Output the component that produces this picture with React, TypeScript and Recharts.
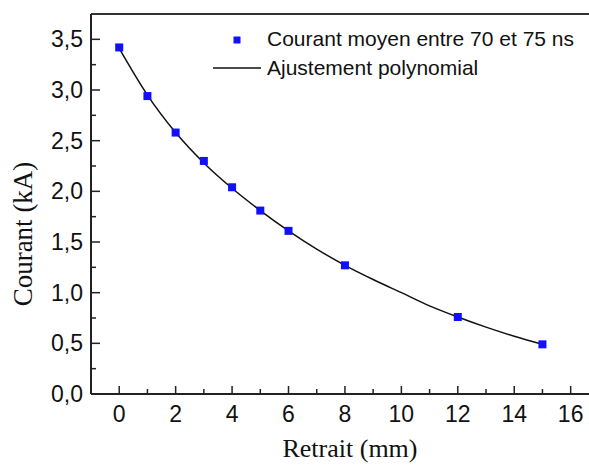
import {
  ComposedChart,
  Line,
  Scatter,
  XAxis,
  YAxis,
  ReferenceLine,
  Legend,
} from "recharts";

// measured points (courant moyen entre 70 et 75 ns)
const retraitMm: number[] = [0, 1, 2, 3, 4, 5, 6, 8, 12, 15];
const courantKA: number[] = [3.42, 2.94, 2.58, 2.3, 2.04, 1.81, 1.61, 1.27, 0.76, 0.49];

// polynomial fit
const fitX: number[] = [0, 1, 2, 3, 4, 5, 6, 7, 8, 9, 10, 11, 12, 13, 14, 15];
const fitY: number[] = [3.41, 2.95, 2.58, 2.28, 2.03, 1.81, 1.61, 1.43, 1.27, 1.13, 1.0, 0.87, 0.76, 0.66, 0.57, 0.49];

const xTicks: number[] = [0, 1, 2, 3, 4, 5, 6, 7, 8, 9, 10, 11, 12, 13, 14, 15, 16];
const yTicks: number[] = [0, 0.25, 0.5, 0.75, 1, 1.25, 1.5, 1.75, 2, 2.25, 2.5, 2.75, 3, 3.25, 3.5];

const X_DOMAIN: [number, number] = [-1, 16.65];
const Y_DOMAIN: [number, number] = [0, 3.75];

const AXIS_COLOR = "#222";
const MARKER_COLOR = "#1010ff";
const SANS = "'Liberation Sans', Arial, sans-serif";
const SERIF = "'Liberation Serif', 'Times New Roman', serif";

type Pt = { x: number; y: number };

const points: Pt[] = retraitMm.map((x, i) => ({ x, y: courantKA[i] }));
const fit: Pt[] = fitX.map((x, i) => ({ x, y: fitY[i] }));

const fmt = (v: number) => v.toFixed(1).replace(".", ",");

const XTick = (props: any) => {
  const { x, y, payload } = props;
  const major = payload.value % 2 === 0;
  return (
    <g>
      <line x1={x} x2={x} y1={y} y2={y - (major ? 8 : 5)} stroke={AXIS_COLOR} strokeWidth={1.5} />
      {major && (
        <text x={x} y={y + 28} textAnchor="middle" fontFamily={SANS} fontSize={23} fill="#111">
          {payload.value}
        </text>
      )}
    </g>
  );
};

const YTick = (props: any) => {
  const { x, y, payload } = props;
  const major = Math.abs((payload.value * 2) % 1) < 1e-6;
  return (
    <g>
      <line x1={x} x2={x + (major ? 9 : 5)} y1={y} y2={y} stroke={AXIS_COLOR} strokeWidth={1.5} />
      {major && (
        <text x={x - 8} y={y + 8} textAnchor="end" fontFamily={SANS} fontSize={23} fill="#111">
          {fmt(payload.value)}
        </text>
      )}
    </g>
  );
};

const Square = (props: any) => {
  const { cx, cy } = props;
  if (cx == null || cy == null) return null;
  return <rect x={cx - 4} y={cy - 4} width={8} height={8} fill={MARKER_COLOR} />;
};

const renderLegend = () => (
  <svg width={589} height={90} style={{ display: "block" }}>
    <rect x={233.5} y={36.5} width={7} height={7} fill={MARKER_COLOR} />
    <text x={267} y={46} fontFamily={SANS} fontSize={21} fill="#111">
      Courant moyen entre 70 et 75 ns
    </text>
    <line x1={213} x2={261} y1={68} y2={68} stroke="#111" strokeWidth={1.5} />
    <text x={267} y={75} fontFamily={SANS} fontSize={21} fill="#111">
      Ajustement polynomial
    </text>
  </svg>
);

const App = () => {
  return (
    <div style={{ position: "absolute", left: 0, top: 0, width: 589, height: 469, background: "#fff" }}>
      <ComposedChart width={589} height={469} margin={{ top: 14, right: 0, bottom: 0, left: 0 }}>
        <XAxis
          type="number"
          dataKey="x"
          domain={X_DOMAIN}
          ticks={xTicks}
          interval={0}
          allowDataOverflow
          height={75}
          tickLine={false}
          tickSize={0}
          tickMargin={0}
          tick={<XTick />}
          axisLine={{ stroke: AXIS_COLOR, strokeWidth: 2 }}
          label={{
            content: (p: any) => {
              const vb = p.viewBox;
              return (
                <text x={vb.x + vb.width / 2 + 10} y={vb.y + 63} textAnchor="middle" fontFamily={SERIF} fontSize={26} fill="#111">
                  Retrait (mm)
                </text>
              );
            },
          }}
        />
        <YAxis
          type="number"
          dataKey="y"
          domain={Y_DOMAIN}
          ticks={yTicks}
          interval={0}
          allowDataOverflow
          width={91}
          tickLine={false}
          tickSize={0}
          tickMargin={0}
          tick={<YTick />}
          axisLine={{ stroke: AXIS_COLOR, strokeWidth: 2 }}
          label={{
            content: (p: any) => {
              const vb = p.viewBox;
              const cx = 23;
              const cy = vb.y + vb.height / 2 + 30;
              return (
                <text
                  x={cx}
                  y={cy}
                  transform={`rotate(-90 ${cx} ${cy})`}
                  textAnchor="middle"
                  dominantBaseline="central"
                  fontFamily={SERIF}
                  fontSize={27}
                  fill="#111"
                >
                  Courant (kA)
                </text>
              );
            },
          }}
        />
        <ReferenceLine y={Y_DOMAIN[1]} stroke="#333" strokeWidth={2} ifOverflow="extendDomain" />
        <Line
          data={fit}
          dataKey="y"
          type="monotone"
          stroke="#111"
          strokeWidth={1.5}
          dot={false}
          activeDot={false}
          isAnimationActive={false}
        />
        <Scatter data={points} dataKey="y" shape={<Square />} isAnimationActive={false} />
        <Legend
          layout="vertical"
          align="center"
          verticalAlign="middle"
          content={renderLegend}
          wrapperStyle={{ position: "absolute", left: 0, top: 0, width: 589, height: 90 }}
        />
      </ComposedChart>
    </div>
  );
};

export default App;
